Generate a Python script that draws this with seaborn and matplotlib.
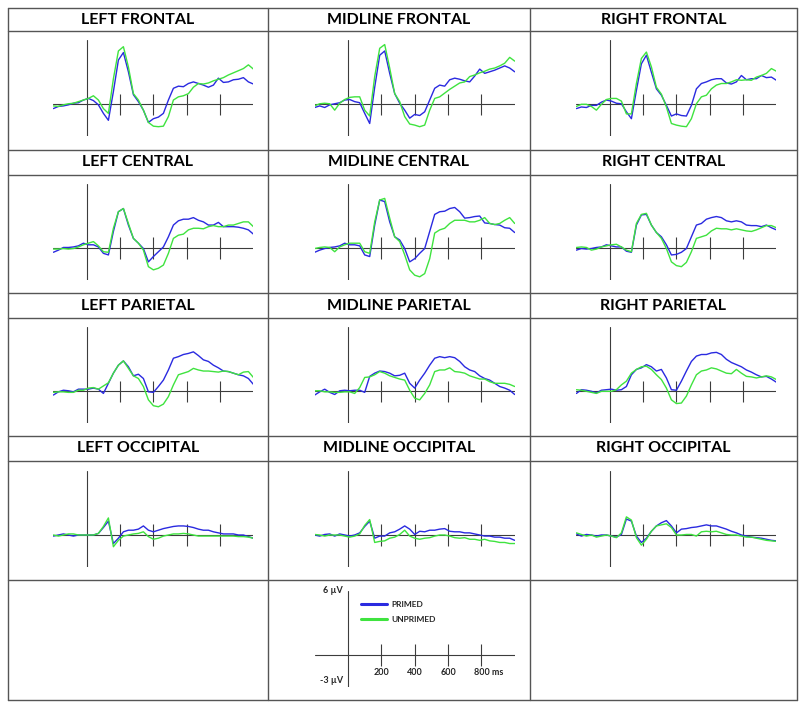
import numpy as np
import pandas as pd
import matplotlib
matplotlib.use("Agg")
import matplotlib.pyplot as plt
from matplotlib.lines import Line2D
import seaborn as sns

# sampling times (ms) shared by every waveform
times = [-200, -170, -140, -110, -80, -50, -20, 10, 40, 70,
         100, 130, 160, 190, 220, 250, 280, 310, 340, 370,
         400, 430, 460, 490, 520, 550, 580, 610, 640, 670,
         700, 730, 760, 790, 820, 850, 880, 910, 940, 970, 1000]

regions = ["LEFT FRONTAL", "MIDLINE FRONTAL", "RIGHT FRONTAL",
           "LEFT CENTRAL", "MIDLINE CENTRAL", "RIGHT CENTRAL",
           "LEFT PARIETAL", "MIDLINE PARIETAL", "RIGHT PARIETAL",
           "LEFT OCCIPITAL", "MIDLINE OCCIPITAL", "RIGHT OCCIPITAL"]
conditions = ["PRIMED", "UNPRIMED"]

# amplitudes in microvolts
lf_primed = [-0.4, -0.2, -0.15, -0.05, 0.1, 0.15, 0.4, 0.55, 0.35, -0.05,
             -0.85, -1.5, 1.2, 4.15, 4.85, 3.05, 0.9, 0.25, -0.55, -1.7,
             -1.35, -1.2, -0.85, 0.4, 1.5, 1.7, 1.65, 1.95, 2.1, 1.95,
             1.8, 1.6, 1.8, 2.45, 2.05, 2.1, 2.3, 2.35, 2.5, 2.1, 1.9]
lf_unprimed = [-0.15, -0.2, -0.05, 0.05, 0.1, 0.25, 0.4, 0.55, 0.8, 0.4,
               -0.4, -0.85, 2.4, 5.0, 5.4, 3.5, 1.0, 0.4, -0.55, -1.7,
               -2.05, -2.1, -2.05, -1.15, 0.4, 0.7, 0.8, 1.0, 1.6, 1.95,
               1.9, 2.0, 2.2, 2.35, 2.5, 2.75, 2.95, 3.15, 3.35, 3.7, 3.3]
mf_primed = [-0.3, -0.15, -0.3, -0.05, 0.05, 0.15, 0.4, 0.45, 0.25, 0.15,
             -0.85, -1.8, 1.6, 4.6, 5.0, 2.9, 1.0, 0.1, -0.55, -1.3,
             -0.95, -1.05, -0.7, 0.4, 1.5, 1.8, 1.7, 2.3, 2.45, 2.35,
             2.2, 2.1, 2.65, 3.3, 2.9, 3.05, 3.2, 3.4, 3.6, 3.4, 3.05]
mf_unprimed = [-0.15, 0.05, 0.1, 0.05, -0.55, 0.1, 0.45, 0.65, 0.7, 0.7,
               -0.55, -1.1, 2.6, 5.25, 5.6, 3.4, 1.0, 0.25, -1.15, -1.85,
               -1.95, -2.1, -1.95, -0.55, 0.55, 0.7, 1.05, 1.4, 1.7, 2.0,
               2.1, 2.6, 2.75, 2.95, 3.1, 3.3, 3.4, 3.6, 3.85, 4.4, 4.05]
rf_primed = [-0.4, -0.25, -0.3, -0.1, -0.1, 0.2, 0.4, 0.3, 0.1, 0.05,
             -0.7, -1.35, 1.3, 3.8, 4.6, 3.0, 1.45, 0.85, -0.1, -1.1,
             -0.9, -1.05, -1.1, -0.1, 1.45, 1.95, 2.1, 2.3, 2.4, 2.4,
             2.0, 1.9, 2.1, 2.7, 2.3, 2.4, 2.4, 2.7, 2.5, 2.55, 2.25]
rf_unprimed = [-0.2, 0.0, 0.0, -0.2, -0.55, 0.0, 0.45, 0.55, 0.55, 0.3,
               -0.9, -0.9, 1.95, 4.3, 4.9, 3.5, 1.6, 0.95, -0.25, -1.8,
               -1.95, -2.05, -2.1, -1.35, 0.05, 0.7, 0.85, 1.45, 1.8, 1.95,
               1.95, 2.1, 2.3, 2.25, 2.3, 2.25, 2.55, 2.7, 2.9, 3.35, 3.1]
lc_primed = [-0.4, -0.2, 0.05, 0.05, 0.1, 0.2, 0.45, 0.3, 0.3, 0.1,
             -0.5, -0.65, 1.55, 3.4, 3.7, 2.15, 0.9, 0.45, -0.05, -1.3,
             -0.8, -0.35, 0.1, 1.05, 2.15, 2.55, 2.7, 2.7, 2.85, 2.6,
             2.45, 2.15, 2.15, 2.4, 2.0, 2.0, 2.0, 1.95, 1.85, 1.7, 1.3]
lc_unprimed = [-0.1, -0.1, -0.05, -0.1, -0.05, 0.1, 0.3, 0.45, 0.6, 0.2,
               -0.35, -0.4, 1.85, 3.4, 3.7, 2.3, 0.9, 0.45, -0.2, -1.75,
               -2.05, -1.9, -1.6, -0.5, 0.9, 1.2, 1.3, 1.7, 1.85, 1.85,
               1.8, 2.0, 2.1, 2.0, 2.0, 2.15, 2.15, 2.3, 2.45, 2.45, 2.0]
mc_primed = [-0.4, -0.2, -0.05, 0.05, 0.1, 0.2, 0.45, 0.3, 0.3, 0.2,
             -0.65, -0.8, 2.15, 4.5, 4.35, 2.45, 1.05, 0.75, -0.05, -1.3,
             -1.0, -0.5, -0.05, 1.55, 3.15, 3.4, 3.45, 3.7, 3.8, 3.4,
             2.8, 2.85, 2.95, 3.0, 2.35, 2.3, 2.2, 2.15, 1.9, 1.85, 1.45]
mc_unprimed = [-0.05, 0.05, 0.1, 0.05, -0.35, 0.1, 0.3, 0.45, 0.45, 0.45,
               -0.35, -0.5, 2.45, 4.5, 4.65, 2.8, 1.05, 0.6, -0.65, -2.05,
               -2.55, -2.7, -2.4, -1.0, 1.4, 1.7, 1.85, 2.3, 2.6, 2.6,
               2.6, 2.45, 2.45, 2.6, 2.85, 2.3, 2.2, 2.3, 2.6, 2.85, 2.3]
rc_primed = [-0.2, -0.05, -0.1, -0.05, 0.05, 0.1, 0.3, 0.2, 0.1, 0.1,
             -0.3, -0.4, 2.15, 3.1, 3.15, 2.15, 1.45, 1.05, 0.3, -0.65,
             -0.6, -0.4, -0.05, 1.05, 2.15, 2.3, 2.7, 2.85, 2.95, 2.85,
             2.55, 2.45, 2.55, 2.45, 2.15, 2.1, 2.1, 2.0, 2.15, 1.9, 1.7]
rc_unprimed = [0.05, 0.1, 0.05, -0.2, -0.1, 0.1, 0.2, 0.3, 0.35, 0.1,
               -0.2, -0.35, 2.3, 3.15, 3.25, 2.15, 1.45, 0.9, -0.05, -1.3,
               -1.65, -1.75, -1.35, -0.35, 0.9, 1.05, 1.2, 1.6, 1.85, 1.8,
               1.8, 1.7, 1.8, 1.7, 1.6, 1.55, 1.7, 1.9, 2.1, 2.1, 1.9]
lp_primed = [-0.35, -0.05, 0.1, 0.05, -0.05, 0.2, 0.2, 0.2, 0.3, 0.2,
             -0.2, 0.75, 1.7, 2.45, 2.85, 2.3, 1.45, 1.6, 1.2, -0.05,
             -0.1, 0.45, 1.05, 2.0, 3.1, 3.25, 3.45, 3.55, 3.7, 3.35,
             2.95, 2.8, 2.45, 2.2, 1.9, 1.85, 1.7, 1.55, 1.45, 1.2, 0.65]
lp_unprimed = [-0.1, -0.05, -0.05, -0.1, -0.1, 0.1, 0.1, 0.3, 0.35, 0.2,
               0.5, 0.8, 1.7, 2.45, 2.85, 2.15, 1.45, 1.2, 0.45, -0.8,
               -1.35, -1.45, -1.2, -0.5, 0.6, 1.55, 1.7, 1.85, 2.15, 2.0,
               1.9, 1.9, 1.85, 1.8, 1.9, 1.85, 1.7, 1.55, 1.8, 1.85, 1.3]
mp_primed = [-0.35, -0.05, 0.2, -0.1, -0.3, 0.05, 0.1, 0.05, 0.1, 0.1,
             -0.1, 1.4, 1.7, 1.9, 1.85, 1.7, 1.45, 1.5, 1.7, 0.75,
             0.3, 1.05, 1.7, 2.45, 3.1, 3.25, 3.15, 3.25, 3.15, 2.8,
             2.3, 2.0, 1.85, 1.45, 1.2, 1.05, 0.75, 0.45, 0.3, 0.1, -0.3]
mp_unprimed = [0.05, 0.05, -0.05, -0.05, -0.1, -0.1, -0.05, -0.05, -0.2, 0.35,
               1.3, 1.35, 1.55, 1.85, 1.7, 1.45, 1.3, 1.15, 1.05, 0.1,
               -0.65, -0.8, -0.2, 0.6, 1.85, 2.0, 2.0, 2.2, 1.85, 1.8,
               1.7, 1.45, 1.3, 1.15, 1.15, 0.9, 0.75, 0.75, 0.75, 0.65, 0.45]
rp_primed = [-0.2, 0.15, 0.1, 0.0, -0.15, 0.1, 0.15, 0.2, 0.1, 0.15,
             0.45, 1.55, 2.05, 2.2, 2.5, 2.3, 1.9, 2.05, 1.25, 0.15,
             0.1, 0.95, 1.9, 2.8, 3.3, 3.45, 3.45, 3.6, 3.65, 3.45,
             3.0, 2.7, 2.5, 2.3, 2.0, 1.8, 1.55, 1.35, 1.4, 1.15, 0.85]
rp_unprimed = [0.15, 0.1, 0.0, -0.1, -0.2, 0.0, 0.0, 0.0, 0.15, 0.6,
               0.95, 1.7, 2.05, 2.3, 2.35, 2.05, 1.55, 1.1, 0.3, -0.8,
               -1.15, -1.1, -0.45, 0.6, 1.55, 1.9, 2.0, 2.2, 2.1, 1.9,
               1.7, 1.65, 2.05, 1.7, 1.4, 1.35, 1.25, 1.35, 1.45, 1.35, 1.1]
lo_primed = [-0.1, 0.0, 0.1, 0.0, -0.1, 0.0, 0.0, 0.0, 0.0, 0.15,
             0.7, 1.3, -0.8, -0.3, 0.3, 0.45, 0.45, 0.55, 0.85, 0.45,
             0.3, 0.45, 0.6, 0.7, 0.8, 0.85, 0.85, 0.8, 0.7, 0.55,
             0.45, 0.45, 0.3, 0.2, 0.1, 0.1, 0.1, 0.0, 0.0, -0.15, -0.3]
lo_unprimed = [0.0, -0.1, 0.0, 0.1, 0.1, 0.0, 0.0, 0.0, 0.0, 0.15,
               0.8, 1.6, -1.1, -0.5, -0.1, 0.0, 0.1, 0.15, 0.3, -0.15,
               -0.4, -0.3, -0.1, 0.0, 0.1, 0.1, 0.15, 0.1, 0.0, -0.1,
               -0.1, -0.1, -0.1, -0.1, -0.1, -0.1, -0.1, -0.15, -0.15, -0.2, -0.3]
mo_primed = [0.0, -0.1, 0.05, 0.1, -0.1, 0.1, 0.0, -0.1, 0.0, 0.2,
             0.8, 1.3, -0.3, -0.1, -0.1, 0.2, 0.3, 0.55, 0.85, 0.55,
             0.05, 0.35, 0.3, 0.45, 0.45, 0.55, 0.6, 0.35, 0.3, 0.3,
             0.2, 0.2, 0.1, 0.0, -0.1, -0.1, -0.2, -0.2, -0.3, -0.3, -0.5]
mo_unprimed = [0.05, 0.0, -0.1, 0.0, 0.0, 0.0, -0.1, -0.2, -0.1, 0.1,
               0.9, 1.45, -0.7, -0.6, -0.55, -0.3, -0.2, 0.05, 0.45, -0.1,
               -0.3, -0.4, -0.3, -0.25, -0.1, 0.0, 0.0, -0.1, -0.25, -0.3,
               -0.25, -0.4, -0.4, -0.5, -0.4, -0.55, -0.6, -0.7, -0.7, -0.8, -0.8]
ro_primed = [0.1, -0.1, 0.05, 0.0, -0.1, 0.0, 0.0, -0.1, -0.2, 0.05,
             1.5, 1.3, -0.1, -0.7, -0.3, 0.35, 0.85, 1.15, 1.35, 0.85,
             0.2, 0.55, 0.6, 0.7, 0.75, 0.85, 0.95, 0.85, 0.85, 0.7,
             0.55, 0.35, 0.2, 0.0, -0.1, -0.2, -0.25, -0.3, -0.4, -0.5, -0.55]
ro_unprimed = [0.2, 0.05, -0.1, 0.0, -0.2, -0.1, 0.0, -0.1, -0.25, 0.2,
               1.7, 1.4, -0.25, -0.95, -0.4, 0.35, 0.85, 0.95, 1.05, 0.7,
               0.0, 0.0, 0.05, 0.05, -0.1, 0.3, 0.35, 0.3, 0.35, 0.2,
               0.05, 0.0, 0.0, -0.1, -0.2, -0.2, -0.3, -0.4, -0.5, -0.55, -0.6]

waves = [(lf_primed, lf_unprimed), (mf_primed, mf_unprimed), (rf_primed, rf_unprimed),
         (lc_primed, lc_unprimed), (mc_primed, mc_unprimed), (rc_primed, rc_unprimed),
         (lp_primed, lp_unprimed), (mp_primed, mp_unprimed), (rp_primed, rp_unprimed),
         (lo_primed, lo_unprimed), (mo_primed, mo_unprimed), (ro_primed, ro_unprimed)]

# scale bar / time ticks
tick_ms = [200, 400, 600, 800]
tick_labels = ["200", "400", "600", "800 ms"]

# long table for seaborn
rows = []
for region, (primed, unprimed) in zip(regions, waves):
    for cond, vals in zip(conditions, (primed, unprimed)):
        for t, v in zip(times, vals):
            rows.append((region, cond, t, v))
df = pd.DataFrame(rows, columns=["region", "condition", "time", "uV"])

sns.set_style("white")
plt.rcParams["font.family"] = ["Lato", "DejaVu Sans"]

W, H = 800, 709
fig = plt.figure(figsize=(W / 100, H / 100), dpi=100)
palette = {"PRIMED": "#2a2ae0", "UNPRIMED": "#3fe33f"}
axis_col = "#3c3c3c"
frame_col = "#555555"


def px_axes(x, y, w, h):
    # axes placed in pixel units, measured from top-left
    return fig.add_axes([x / W, 1 - (y + h) / H, w / W, h / H])


def draw_frame_axes(ax):
    ax.plot([0, 0], [-3, 6], color=axis_col, lw=0.8)
    ax.plot([-200, 1000], [0, 0], color=axis_col, lw=0.8)
    ax.vlines(tick_ms, -1, 1, color=axis_col, lw=0.8)
    ax.set_xlim(-200, 1000)
    ax.set_ylim(-3, 6)
    ax.set_axis_off()


def hline(y, x1=8, x2=797):
    fig.add_artist(Line2D([x1 / W, x2 / W], [1 - y / H, 1 - y / H],
                          transform=fig.transFigure, color=frame_col, lw=1.0))


def vline(x, y1=8, y2=700):
    fig.add_artist(Line2D([x / W, x / W], [1 - y1 / H, 1 - y2 / H],
                          transform=fig.transFigure, color=frame_col, lw=1.0))


col_left = [53.4, 314.7, 576.4]      # pixel x of -200 ms
row_top = [40.3, 184.0, 327.3, 471.0]  # pixel y of +6 uV
title_y = [19.5, 162.5, 305.5, 448.5]
col_mid = [138, 399, 663.5]

for i, region in enumerate(regions):
    r, c = divmod(i, 3)
    ax = px_axes(col_left[c], row_top[r], 200, 96)
    draw_frame_axes(ax)
    sub = df[df["region"] == region]
    sns.lineplot(data=sub, x="time", y="uV", hue="condition", palette=palette,
                 estimator=None, sort=False, legend=False, lw=1.0, ax=ax)
    ax.set_axis_off()
    fig.text(col_mid[c] / W, 1 - title_y[r] / H, region, ha="center", va="center",
             fontsize=11.5, fontweight="bold", color="black")

# table grid lines
for y in [8, 31, 150, 175, 293, 318, 436, 461, 580, 700]:
    hline(y)
for x in [8, 268, 530, 797]:
    vline(x)

# scale / legend panel
lax = px_axes(314.7, 591, 200, 96)
draw_frame_axes(lax)
for t, lab in zip(tick_ms, tick_labels):
    if lab.endswith("ms"):
        lax.text(t - 45, -1.6, lab, ha="left", va="center", fontsize=6.5, fontweight="bold")
    else:
        lax.text(t, -1.6, lab, ha="center", va="center", fontsize=6.5, fontweight="bold")
lax.text(-30, 6.05, "6 \u00b5V", ha="right", va="center", fontsize=6.5, fontweight="bold")
lax.text(-30, -2.35, "-3 \u00b5V", ha="right", va="center", fontsize=6.5, fontweight="bold")
for cond, yy in zip(conditions, [4.75, 3.35]):
    lax.plot([76, 234], [yy, yy], color=palette[cond], lw=2.2)
    lax.text(262, yy, cond, ha="left", va="center", fontsize=6, fontweight="bold")

fig.savefig("out.png", dpi=100, facecolor="white")
